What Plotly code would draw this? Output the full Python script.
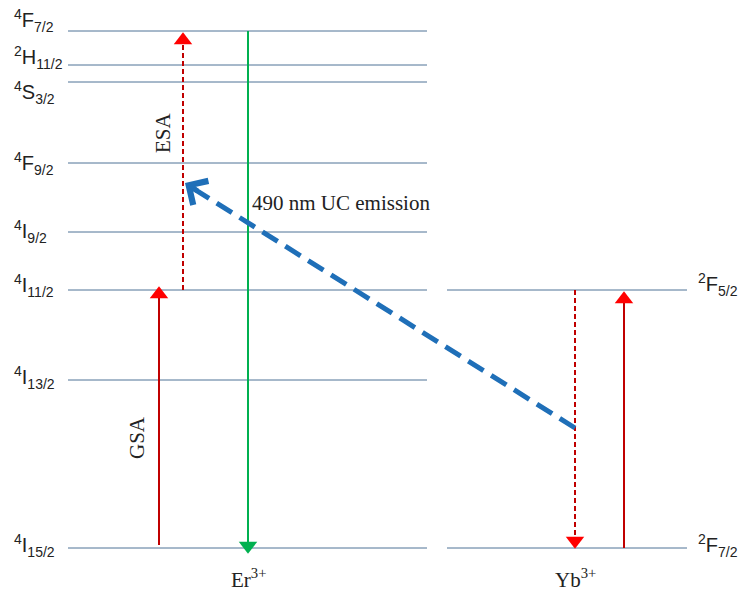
import plotly.graph_objects as go

# ---------------- data ----------------
er_labels = ["<sup>4</sup>F<sub>7/2</sub>", "<sup>2</sup>H<sub>11/2</sub>", "<sup>4</sup>S<sub>3/2</sub>",
             "<sup>4</sup>F<sub>9/2</sub>", "<sup>4</sup>I<sub>9/2</sub>", "<sup>4</sup>I<sub>11/2</sub>",
             "<sup>4</sup>I<sub>13/2</sub>", "<sup>4</sup>I<sub>15/2</sub>"]
er_energy = [517, 483, 466, 385, 316, 258, 168, 0]

yb_labels = ["<sup>2</sup>F<sub>5/2</sub>", "<sup>2</sup>F<sub>7/2</sub>"]
yb_energy = [258, 0]

ion_names = ["Er<sup>3+</sup>", "Yb<sup>3+</sup>"]

# transitions: (x, start energy, tip energy)
gsa = (159, 3, 261)
esa = (183, 258, 515)
green = (248, 517, -5)
yb_down = (575, 258, 0)
yb_up = (624, 0, 256)
transfer = ((575, 120), (185, 365))

# ---------------- style ----------------
LEVEL = "#4f7396"
RED_D = "#c00000"
RED = "#ff0000"
GREEN = "#00b050"
BLUE = "#1f6fb8"

er_x = (68, 427)
yb_x = (447, 687)
label_shift = [11, 8, -10, 0, 1, 5, 3, 3]
yb_shift = [6, 3]
HEAD = 16  # marker size of arrow heads

fig = go.Figure()

for e in er_energy:
    fig.add_trace(go.Scatter(x=list(er_x), y=[e, e], mode="lines",
                             line=dict(color=LEVEL, width=1), hoverinfo="skip", showlegend=False))
for e in yb_energy:
    fig.add_trace(go.Scatter(x=list(yb_x), y=[e, e], mode="lines",
                             line=dict(color=LEVEL, width=1), hoverinfo="skip", showlegend=False))

ann = []
sans = dict(family="Liberation Sans, Arial", size=20, color="#222222")
serif = dict(family="Liberation Serif, Times New Roman", size=21, color="#222222")

for lab, e, s in zip(er_labels, er_energy, label_shift):
    ann.append(dict(x=12, y=e, text=lab, showarrow=False, xanchor="left", yanchor="middle",
                    yshift=s, font=sans))
for lab, e, s in zip(yb_labels, yb_energy, yb_shift):
    ann.append(dict(x=696, y=e, text=lab, showarrow=False, xanchor="left", yanchor="middle",
                    yshift=s, font=sans))


def varrow(spec, color, head_color, dash="solid"):
    x, y0, y1 = spec
    up = y1 > y0
    off = HEAD * 0.45
    yend = y1 - off if up else y1 + off
    fig.add_trace(go.Scatter(x=[x, x], y=[y0, yend], mode="lines",
                             line=dict(color=color, width=2, dash=dash),
                             hoverinfo="skip", showlegend=False))
    fig.add_trace(go.Scatter(x=[x], y=[yend], mode="markers",
                             marker=dict(symbol="triangle-up" if up else "triangle-down",
                                         size=HEAD, color=head_color, line=dict(width=0)),
                             hoverinfo="skip", showlegend=False))


varrow(gsa, RED_D, RED)
varrow(esa, RED_D, RED, "5px,3px")
varrow(green, GREEN, GREEN)
varrow(yb_down, RED_D, RED, "5px,3px")
varrow(yb_up, RED_D, RED)

# energy transfer (thick blue dashed with open chevron head)
(tx0, ty0), (tx1, ty1) = transfer
fig.add_trace(go.Scatter(x=[tx0, tx1 + 6], y=[ty0, ty1 - 4], mode="lines",
                         line=dict(color=BLUE, width=5, dash="18px,9px"),
                         hoverinfo="skip", showlegend=False))
ann.append(dict(x=tx1, y=ty1, ax=tx1 + 14, ay=ty1 - 8.8, axref="x", ayref="y", xref="x", yref="y",
                text="", showarrow=True, arrowhead=4, arrowsize=1.1, arrowwidth=5, arrowcolor=BLUE))

# text labels
ann.append(dict(x=163, y=415, text="ESA", showarrow=False, textangle=-90, font=serif))
ann.append(dict(x=137, y=110, text="GSA", showarrow=False, textangle=-90, font=serif))
ann.append(dict(x=250, y=345, text="490 nm UC emission", showarrow=False, xanchor="left",
                yanchor="middle", font=serif))
ann.append(dict(x=green[0], y=-30, text=ion_names[0], showarrow=False, font=serif))
ann.append(dict(x=yb_down[0], y=-30, text=ion_names[1], showarrow=False, font=serif))

fig.update_layout(
    width=738, height=593, margin=dict(l=0, r=0, t=0, b=0),
    paper_bgcolor="white", plot_bgcolor="white",
    xaxis=dict(range=[0, 738], visible=False, fixedrange=True),
    yaxis=dict(range=[-45, 548], visible=False, fixedrange=True),
    annotations=ann, showlegend=False,
)

fig.write_html("out.html")
